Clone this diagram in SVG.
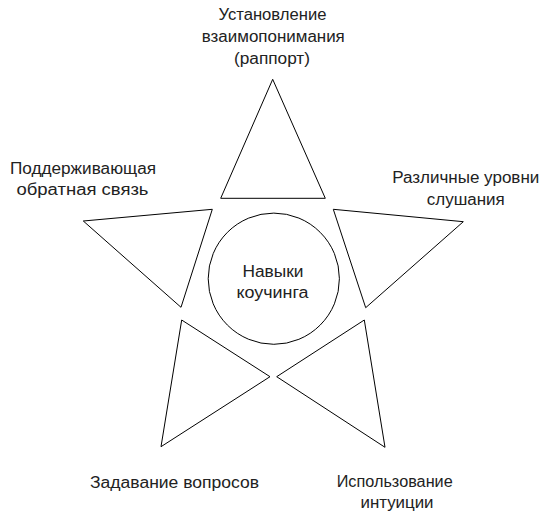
<svg xmlns="http://www.w3.org/2000/svg" width="545" height="521" viewBox="0 0 545 521">
<style>
.shape{fill:#ffffff;stroke:#000000;stroke-width:1}
.lbl{font-family:"Liberation Sans",Arial,sans-serif;font-size:16px;fill:#222222;text-anchor:middle}
</style>
<rect width="545" height="521" fill="#ffffff"/>
<g id="connectors"></g>
<g id="node-center">
<circle class="shape" cx="273.8" cy="278.7" r="65.6"/>
<text class="lbl" x="273" y="276.7" textLength="61" lengthAdjust="spacingAndGlyphs">Навыки</text>
<text class="lbl" x="272.5" y="298.3" textLength="72" lengthAdjust="spacingAndGlyphs">коучинга</text>
</g>
<g id="node-top">
<polygon class="shape" points="272.7,79.3 220.7,198.3 325.3,198.3"/>
<text class="lbl" x="272.5" y="20" textLength="108" lengthAdjust="spacingAndGlyphs">Установление</text>
<text class="lbl" x="273.3" y="42" textLength="143" lengthAdjust="spacingAndGlyphs">взаимопонимания</text>
<text class="lbl" x="272" y="63.5" textLength="76" lengthAdjust="spacingAndGlyphs">(раппорт)</text>
</g>
<g id="node-left">
<polygon class="shape" points="83.3,221 212.3,209.3 181,307.3"/>
<text class="lbl" x="83" y="173.5" textLength="146" lengthAdjust="spacingAndGlyphs">Поддерживающая</text>
<text class="lbl" x="82.5" y="195" textLength="132" lengthAdjust="spacingAndGlyphs">обратная связь</text>
</g>
<g id="node-right">
<polygon class="shape" points="333.3,209.3 463.3,221.7 365.7,307.7"/>
<text class="lbl" x="465.8" y="182.7" textLength="147" lengthAdjust="spacingAndGlyphs">Различные уровни</text>
<text class="lbl" x="465.8" y="205" textLength="78" lengthAdjust="spacingAndGlyphs">слушания</text>
</g>
<g id="node-bottom-left">
<polygon class="shape" points="181.7,320 270,376.7 161,446.7"/>
<text class="lbl" x="174.5" y="487.5" textLength="169" lengthAdjust="spacingAndGlyphs">Задавание вопросов</text>
</g>
<g id="node-bottom-right">
<polygon class="shape" points="364.3,320 276.7,376.7 385,447.3"/>
<text class="lbl" x="394.7" y="486.5" textLength="116" lengthAdjust="spacingAndGlyphs">Использование</text>
<text class="lbl" x="397" y="508.3" textLength="73" lengthAdjust="spacingAndGlyphs">интуиции</text>
</g>
</svg>
